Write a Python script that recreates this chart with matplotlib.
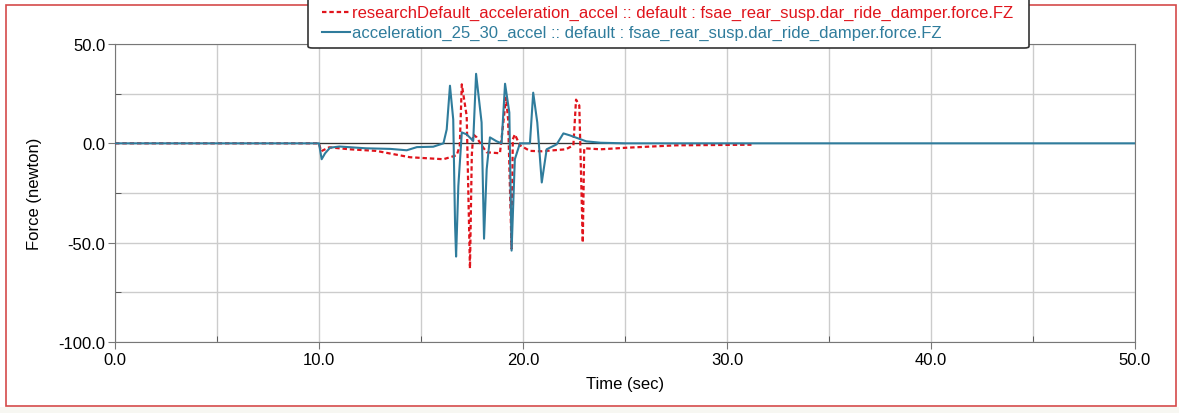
import matplotlib.pyplot as plt
from matplotlib.patches import Rectangle, FancyBboxPatch
from matplotlib.lines import Line2D

# series
red_label = "researchDefault_acceleration_accel :: default : fsae_rear_susp.dar_ride_damper.force.FZ"
blue_label = "acceleration_25_30_accel :: default : fsae_rear_susp.dar_ride_damper.force.FZ"

red_t = [0.0, 10.0, 10.1, 10.5, 11.5, 12.8, 14.46, 16.1, 16.75, 16.9, 17.0, 17.24, 17.4,
         17.49, 17.56, 17.73, 17.97, 18.22, 18.87, 19.17, 19.27, 19.44, 19.5, 19.6, 19.85,
         20.34, 20.9, 22.1, 22.47, 22.6, 22.76, 22.93, 23.0, 23.8, 25.1, 27.5, 31.2]
red_f = [0.0, 0.0, -4.0, -2.0, -3.0, -3.8, -7.0, -8.0, -6.0, -1.3, 29.7, 13.7, -63.0,
         -6.0, 4.5, 3.0, -1.0, -4.5, -5.0, 23.0, 12.0, -53.0, 2.0, 4.5, -1.0,
         -3.8, -4.0, -3.0, -1.0, 22.0, 19.0, -50.0, -2.5, -3.0, -2.2, -1.0, -0.7]

blue_t = [0.0, 10.0, 10.13, 10.3, 10.54, 11.0, 12.3, 13.5, 14.3, 14.8, 15.6, 16.1, 16.26,
          16.42, 16.58, 16.67, 16.72, 16.83, 17.0, 17.24, 17.56, 17.7, 17.97, 18.09, 18.22,
          18.38, 18.71, 18.95, 19.12, 19.33, 19.44, 19.6, 19.85, 20.34, 20.5, 20.7, 20.92,
          21.16, 21.65, 21.98, 22.3, 23.1, 23.8, 25.0, 50.0]
blue_f = [0.0, 0.0, -8.0, -5.0, -2.2, -1.6, -2.5, -2.8, -3.5, -1.9, -1.7, 0.0, 7.0,
          29.0, 12.0, -41.0, -57.0, -21.5, 5.5, 4.5, 1.2, 35.0, 10.5, -48.0, -13.0,
          3.0, 1.0, 0.0, 30.0, 15.5, -54.0, -8.0, 0.0, 0.0, 25.5, 10.5, -19.7,
          -3.0, -0.5, 5.0, 4.0, 1.0, 0.3, 0.0, 0.0]

zero_t = [10.0, 25.0]  # dark zero reference segment
zero_f = [0.0, 0.0]

x_ticks = [0, 10, 20, 30, 40, 50]
y_ticks = [50, 0, -50, -100]

plt.rcParams['font.family'] = ['Liberation Sans', 'DejaVu Sans']

RED = '#e0141c'
BLUE = '#2f7c9c'
GRID = '#cccccc'
AXC = '#777777'
RED_LS = (0, (2.0, 1.3))

fig = plt.figure(figsize=(11.79, 4.14), dpi=100)
W, H = 1179, 414

# outer red frame and bottom band
fig.patches.append(Rectangle((0, 0), 1, 6 / H, transform=fig.transFigure,
                             facecolor='#f7f7f2', edgecolor='none', zorder=0))
fig.patches.append(Rectangle((6 / W, 7 / H), 1170 / W, 401 / H, transform=fig.transFigure,
                             facecolor='none', edgecolor='#d44a4a', lw=1.2, zorder=1))

ax = fig.add_axes([115 / W, 1 - 343 / H, 1020 / W, 298 / H])
ax.set_xlim(0, 50)
ax.set_ylim(-100, 50)
ax.set_xticks(x_ticks)
ax.set_xticklabels(['%.1f' % v for v in x_ticks])
ax.set_yticks(y_ticks)
ax.set_yticklabels(['%.1f' % v for v in y_ticks])
ax.set_xticks([5, 15, 25, 35, 45], minor=True)
ax.set_yticks([25, -25, -75], minor=True)
ax.grid(True, which='both', color=GRID, lw=1)
ax.set_axisbelow(True)
for s in ax.spines.values():
    s.set_color(AXC)
ax.tick_params(which='major', direction='out', length=5, color=AXC, labelsize=12, pad=2)
ax.tick_params(which='minor', direction='in', length=4, color='#444444')

ax.plot(zero_t, zero_f, color='#333333', lw=0.9, zorder=2)
ax.plot(red_t, red_f, color=RED, lw=1.6, linestyle=RED_LS, zorder=3)
ax.plot(blue_t, blue_f, color=BLUE, lw=1.5, zorder=4)

ax.set_xlabel('Time (sec)', fontsize=12, labelpad=7)
ax.set_ylabel('Force (newton)', fontsize=12, labelpad=12)

# legend box sitting over the top edge
fig.patches.append(FancyBboxPatch((308 / W, 1 - 49 / H), 721 / W, 60 / H,
                                  boxstyle='round,pad=0,rounding_size=0.004',
                                  transform=fig.transFigure, facecolor='white',
                                  edgecolor='#333333', lw=1.2, zorder=5))
fig.lines.append(Line2D([322 / W, 350 / W], [1 - 13 / H, 1 - 13 / H], transform=fig.transFigure,
                        color=RED, lw=1.6, linestyle=RED_LS, zorder=6))
fig.lines.append(Line2D([322 / W, 350 / W], [1 - 33 / H, 1 - 33 / H], transform=fig.transFigure,
                        color=BLUE, lw=1.5, zorder=6))
fig.text(352 / W, 1 - 13 / H, red_label, color=RED, fontsize=12, va='center', ha='left',
         family=['Liberation Sans Narrow', 'Liberation Sans'], zorder=7)
fig.text(352 / W, 1 - 33 / H, blue_label, color=BLUE, fontsize=12, va='center', ha='left',
         family=['Liberation Sans Narrow', 'Liberation Sans'], zorder=7)

fig.savefig('out.png', dpi=100)
